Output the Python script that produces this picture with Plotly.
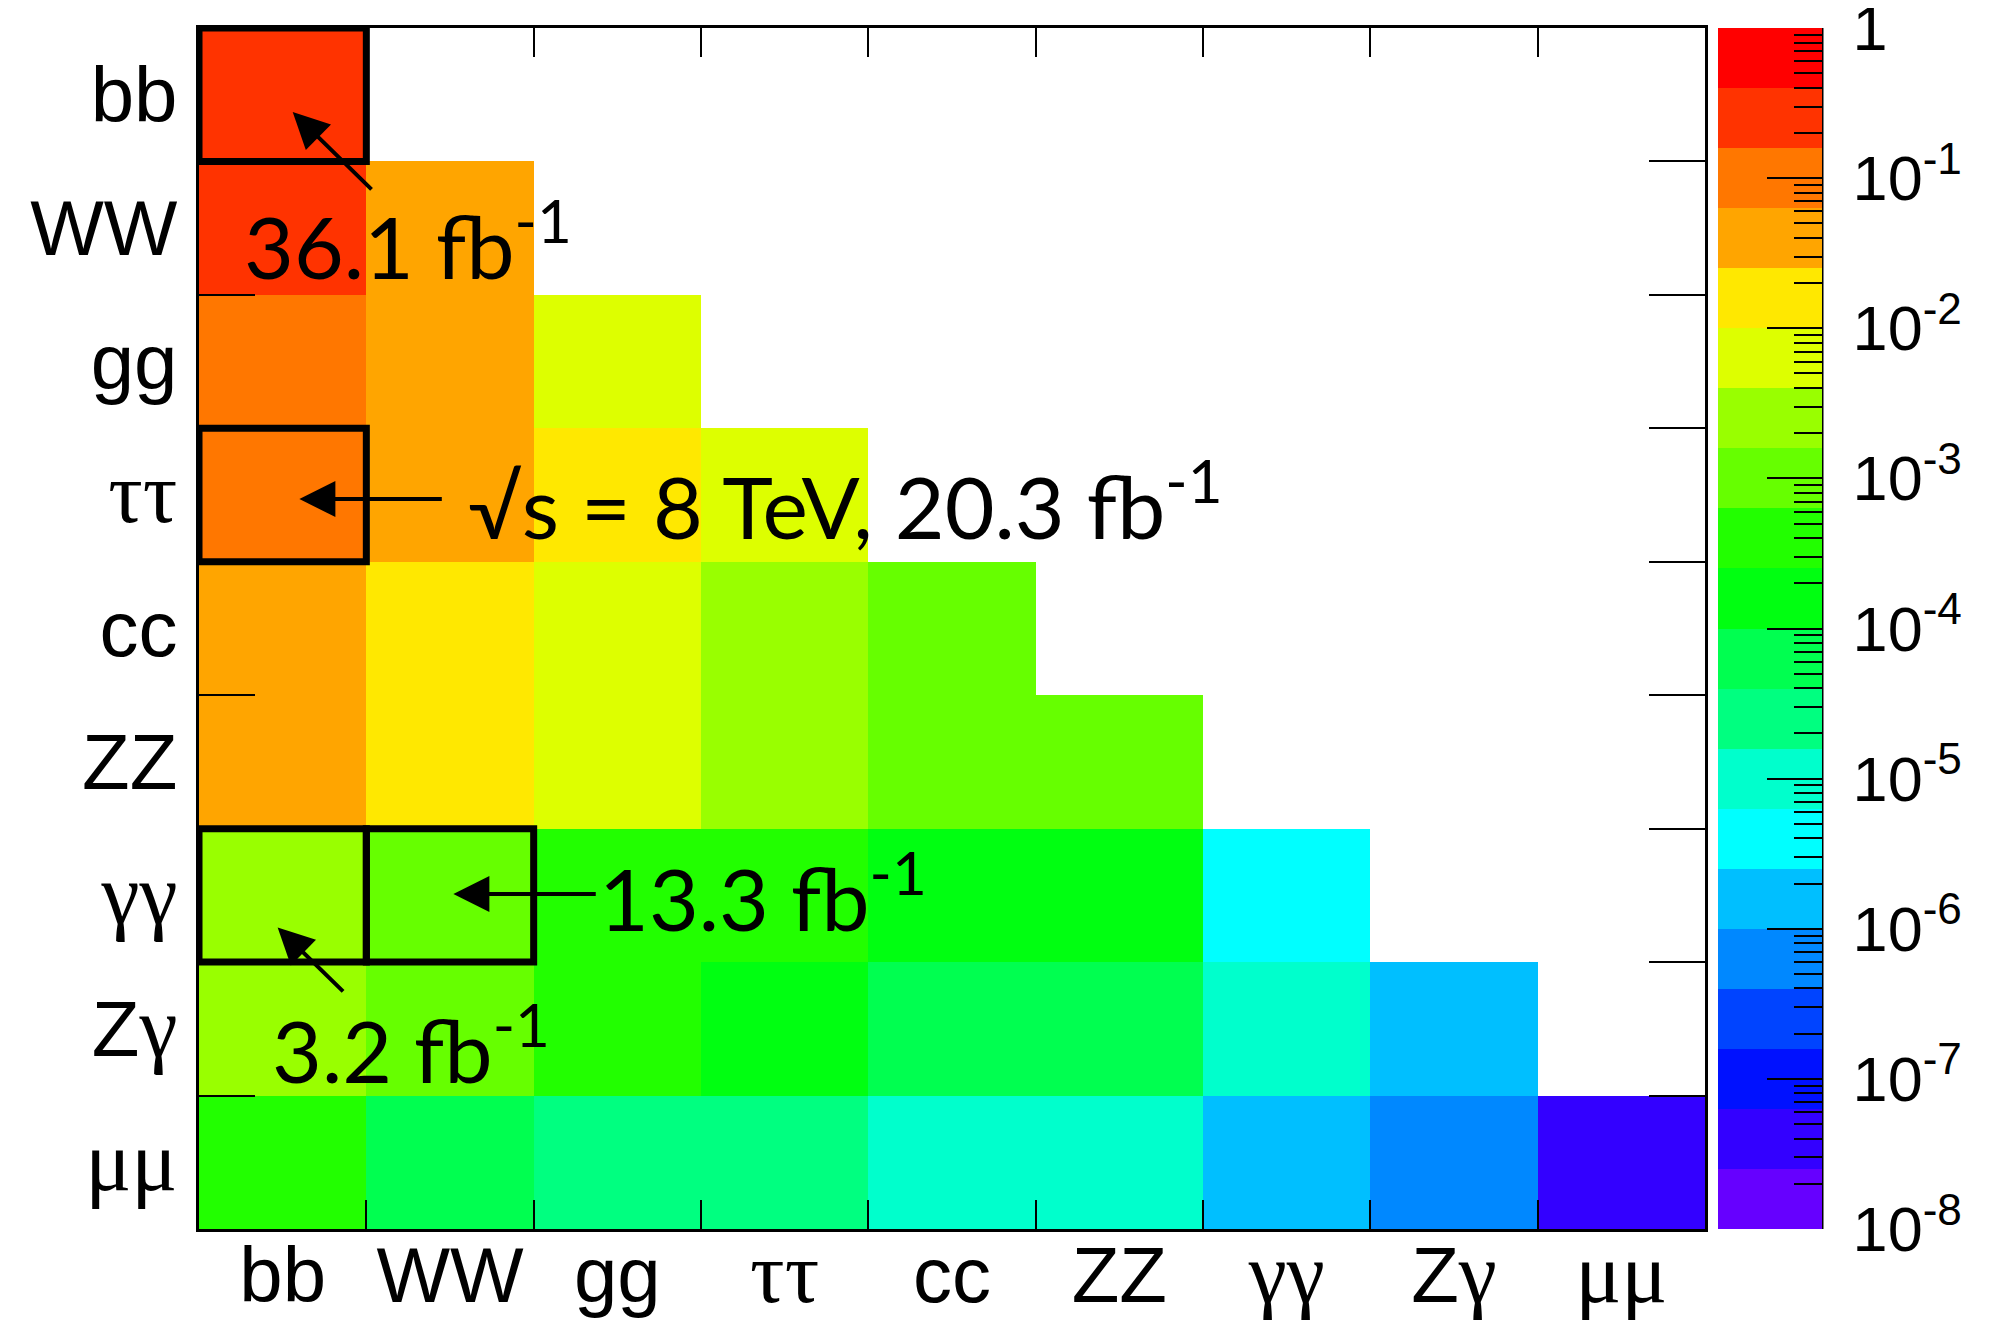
import math
import plotly.graph_objects as go

# ---------------- data ----------------
decays = ["bb", "WW", "gg", "ττ", "cc", "ZZ", "γγ", "Zγ", "μμ"]

GREEK = '<span style="font-family:Liberation Serif;font-size:86px">{}</span>'
tick_text = ["bb", "WW", "gg", GREEK.format("ττ"), "cc", "ZZ",
             GREEK.format("γγ"), "Z" + GREEK.format("γ"), GREEK.format("μμ")]

# HH -> XY branching fractions (row = first decay, columns = second decay)
br_bb = [0.337]
br_WW = [0.250, 0.0463]
br_gg = [0.0950, 0.0352, 0.00669]
br_tautau = [0.0727, 0.0269, 0.0105, 0.0041]
br_cc = [0.0335, 0.0124, 0.00472, 0.00361, 0.000832]
br_ZZ = [0.0307, 0.0114, 0.00432, 0.00330, 0.00152, 0.000697]
br_gamgam = [0.00264, 0.000977, 0.000371, 0.000284, 0.000131, 0.000120, 5.15e-6]
br_Zgam = [0.00179, 0.000663, 0.00026, 0.000193, 8.89e-5, 8.14e-5, 7.0e-6, 2.37e-6]
br_mumu = [0.000255, 9.34e-5, 3.55e-5, 2.72e-5, 1.25e-5, 1.15e-5, 1.05e-6, 6.69e-7, 4.71e-8]

rows = [br_bb, br_WW, br_gg, br_tautau, br_cc, br_ZZ, br_gamgam, br_Zgam, br_mumu]

# colour bands of the palette (bottom -> top), 20 bands over 1e-8 .. 1
band_colors = ["#6600ff", "#3300ff", "#0011ff", "#0044ff", "#0088ff", "#00bfff",
               "#00ffff", "#00ffcc", "#00ff80", "#00ff50", "#00ff11", "#22ff00",
               "#66ff00", "#99ff00", "#ddff00", "#ffe800", "#ffa500", "#ff7700",
               "#ff3300", "#ff0000"]

cb_major_vals = [-8.0, -7.0, -6.0, -5.0, -4.0, -3.0, -2.0, -1.0, 0.0]
cb_major_text = ["10<sup>-8</sup>", "10<sup>-7</sup>", "10<sup>-6</sup>", "10<sup>-5</sup>",
                 "10<sup>-4</sup>", "10<sup>-3</sup>", "10<sup>-2</sup>", "10<sup>-1</sup>", "1"]

lumi_labels = ["36.1 fb<sup>-1</sup>", "√s = 8 TeV, 20.3 fb<sup>-1</sup>",
               "13.3 fb<sup>-1</sup>", "3.2 fb<sup>-1</sup>"]

# ---------------- build ----------------
n = len(decays)
z = [[math.log10(v) for v in r] + [None] * (n - len(r)) for r in rows]

nb = len(band_colors)
colorscale = []
for k, c in enumerate(band_colors):
    colorscale.append([k / nb, c])
    colorscale.append([(k + 1) / nb, c])
clear_scale = [[0, "rgba(0,0,0,0)"], [1, "rgba(0,0,0,0)"]]

minor_vals = [math.log10(m * 10 ** e) for e in range(-8, 0) for m in range(2, 10)]
# offset the long ticks by a hair so they do not sit exactly on a colour-band edge
major_tick_pos = [v - 1e-4 if v > -8 else v + 1e-4 for v in cb_major_vals]

# geometry (figure pixels; the page body adds an 8 px offset)
W, H = 1982, 1312
L, R, T, B = 191, 1697, 20, 1221
pw = R - L
cb_left, cb_right = 1710, 1814

fig = go.Figure()
fig.add_trace(go.Heatmap(z=z, x=decays, y=decays, coloraxis="coloraxis",
                         hoverongaps=False, xgap=0, ygap=0))
# transparent twin traces: they only carry the tick scales of the colour bar
fig.add_trace(go.Heatmap(z=z, x=decays, y=decays, coloraxis="coloraxis2",
                         hoverongaps=False, xgap=0, ygap=0, hoverinfo="skip"))
fig.add_trace(go.Heatmap(z=z, x=decays, y=decays, coloraxis="coloraxis3",
                         hoverongaps=False, xgap=0, ygap=0, hoverinfo="skip"))

cb_common = dict(x=(cb_left - L) / pw, xanchor="left", xpad=0,
                 y=0.5, yanchor="middle", ypad=0, len=1, lenmode="fraction",
                 thickness=cb_right - cb_left, thicknessmode="pixels",
                 outlinewidth=0, tickmode="array",
                 tickwidth=2, tickcolor="black", ticklabeloverflow="allow",
                 bgcolor="rgba(0,0,0,0)")

fig.update_layout(
    coloraxis=dict(cmin=-8, cmax=0, colorscale=colorscale,
                   colorbar=dict(**cb_common, tickvals=cb_major_vals,
                                 ticktext=["\u00a0" + t for t in cb_major_text],
                                 ticks="", tickfont=dict(family="Liberation Sans", size=63,
                                                         color="black"))),
    coloraxis2=dict(cmin=-8, cmax=0, colorscale=clear_scale,
                    colorbar=dict(**cb_common, tickvals=minor_vals + major_tick_pos,
                                  ticks="inside", ticklen=28, showticklabels=False)),
    coloraxis3=dict(cmin=-8, cmax=0, colorscale=clear_scale,
                    colorbar=dict(**cb_common, tickvals=major_tick_pos, ticks="inside",
                                  ticklen=55, showticklabels=False)),
)

axis_common = dict(type="category", tickmode="array", tickvals=decays, ticktext=tick_text,
                   tickson="boundaries", ticks="inside", tickwidth=2, tickcolor="black",
                   showline=True, linewidth=3, linecolor="black", mirror="ticks",
                   showgrid=False, zeroline=False, automargin=False,
                   tickfont=dict(family="Liberation Sans", size=78, color="black"))

fig.update_xaxes(**axis_common, ticklen=29, ticklabelstandoff=-24,
                 range=[-0.5, n - 0.5])
fig.update_yaxes(**axis_common, ticklen=56, ticklabelstandoff=3,
                 range=[n - 0.5, -0.5])

# highlight boxes
boxes = [("bb", "bb"), ("bb", "ττ"), ("bb", "γγ"), ("WW", "γγ")]
for cx, cy in boxes:
    i, j = decays.index(cx), decays.index(cy)
    fig.add_shape(type="rect", xref="x", yref="y", x0=i - 0.5, x1=i + 0.5,
                  y0=j - 0.5, y1=j + 0.5, line=dict(color="black", width=7),
                  fillcolor="rgba(0,0,0,0)", layer="above")

# colour bar axis line (right edge)
fig.add_shape(type="line", xref="paper", yref="paper",
              x0=(cb_right - L) / pw, x1=(cb_right - L) / pw, y0=0, y1=1,
              line=dict(color="black", width=3))

# arrows: (head x, head y, tail x, tail y) in category-index units
arrows = [(0.06, 0.13, 0.54, 0.72),
          (0.10, 3.03, 0.96, 3.03),
          (1.02, 5.99, 1.88, 5.99),
          (-0.03, 6.24, 0.37, 6.73)]
for hx, hy, tx, ty in arrows:
    fig.add_annotation(x=hx, y=hy, ax=tx, ay=ty, xref="x", yref="y", axref="x", ayref="y",
                       text="", showarrow=True, arrowhead=2, arrowsize=1.8,
                       arrowwidth=4, arrowcolor="black", standoff=0, startstandoff=0)

# luminosity labels (left edge x, centre y) in category-index units
label_pos = [(-0.245, 1.095), (1.095, 3.04), (1.88, 5.98), (-0.075, 7.12)]
for txt, (lx, ly) in zip(lumi_labels, label_pos):
    fig.add_annotation(x=lx, y=ly, xref="x", yref="y", text=txt, showarrow=False,
                       xanchor="left", yanchor="middle",
                       font=dict(family="Lato", size=86, color="black"))

fig.update_layout(width=W, height=H,
                  margin=dict(l=L, r=W - R, t=T, b=H - B, autoexpand=False),
                  plot_bgcolor="white", paper_bgcolor="white",
                  font=dict(family="Liberation Sans", color="black"))

fig.write_html("out.html")
